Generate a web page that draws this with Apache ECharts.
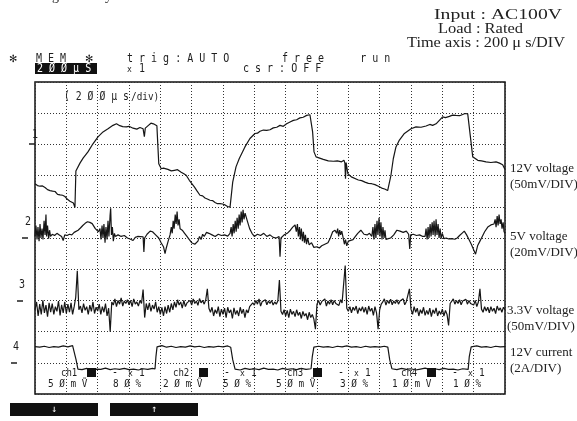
<!DOCTYPE html>
<html><head><meta charset="utf-8">
<script src="https://cdn.jsdelivr.net/npm/echarts@6/dist/echarts.min.js"></script>
<style>html,body{margin:0;padding:0;background:#fff}#c{width:577px;height:421px}</style>
</head><body><div id="c"></div>
<script>
// time axis in microseconds (200 us/div, 15 div), vertical in screen divisions (10 div)
const xTicksUs = {min: 0, max: 3000, step: 200};
const yDivs = {min: 0, max: 10, step: 1};

// CH1: 12V voltage
const ch1 = [
[0,6.74],[16,6.68],[32,6.66],[48,6.67],[64,6.62],[80,6.55],[96,6.52],[112,6.50],[128,6.49],[144,6.40],[160,6.38],[176,6.37],[191,6.33],[207,6.24],[223,6.18],[235,6.16],[245,6.12],[255,5.98],
[261,7.15],[287,7.40],[307,7.56],[338,7.76],[370,8.02],[402,8.24],[434,8.40],[466,8.50],[498,8.61],[520,8.66],[541,8.60],[560,8.57],[583,8.56],[600,8.58],[626,8.52],[650,8.49],[670,8.54],[690,8.50],[698,8.25],[704,8.52],[724,8.61],[740,8.68],[756,8.66],[768,8.67],[778,8.60],[785,7.88],[790,7.38],[806,7.22],[820,7.24],[848,7.20],[870,7.15],[890,7.17],[910,7.19],[933,7.11],[950,7.06],[965,7.01],[985,6.85],[1017,6.64],[1035,6.50],[1053,6.37],[1070,6.35],[1085,6.28],[1100,6.25],[1117,6.21],[1133,6.20],[1149,6.14],[1165,6.10],[1181,6.10],[1197,6.09],[1213,6.06],[1229,6.01],[1245,5.99],
[1251,6.00],[1262,6.79],[1283,7.28],[1304,7.55],[1340,7.92],[1372,8.19],[1404,8.35],[1420,8.36],[1436,8.42],[1458,8.46],[1479,8.45],[1500,8.47],[1521,8.53],[1543,8.55],[1564,8.61],[1585,8.58],[1606,8.66],[1628,8.72],[1649,8.77],[1670,8.79],[1691,8.85],[1712,8.87],[1734,8.93],[1755,8.95],[1766,8.93],[1772,8.40],[1781,7.76],[1794,7.60],[1817,7.56],[1840,7.52],[1872,7.47],[1904,7.46],[1930,7.47],[1957,7.44],[1972,7.49],[1978,7.40],[1982,6.90],[1986,7.42],[1997,7.06],[2019,6.96],[2030,6.93],[2064,6.86],[2085,6.84],[2106,6.79],[2128,6.75],[2149,6.74],[2170,6.71],[2192,6.66],[2213,6.60],[2232,6.57],[2251,6.52],
[2260,6.50],[2272,7.01],[2287,7.54],[2304,7.92],[2326,8.14],[2358,8.35],[2400,8.50],[2432,8.56],[2464,8.55],[2496,8.59],[2520,8.64],[2538,8.61],[2560,8.66],[2581,8.77],[2602,8.88],[2620,8.86],[2645,8.90],[2665,8.94],[2687,8.93],[2710,8.92],[2730,8.96],[2745,8.99],[2762,8.98],[2772,8.93],[2783,8.08],[2794,7.60],[2810,7.55],[2826,7.49],[2850,7.47],[2879,7.44],[2910,7.42],[2943,7.44],[2965,7.40],[2985,7.35],[3000,7.20]
];

// CH2: 5V voltage
const ch2 = [
[0,5.05],[6,5.40],[13,4.95],[19,5.35],[26,4.90],[32,5.45],[38,5.00],[45,5.30],[51,4.95],[58,5.55],[64,5.10],[70,5.75],[74,5.05],[80,5.40],[87,4.98],[93,5.25],[99,5.05],
[110,5.12],[125,5.08],[140,5.15],[155,5.10],[170,5.05],[180,4.92],[190,5.10],[205,5.08],[220,5.12],[235,5.10],[250,5.18],[262,5.14],
[275,5.25],[290,5.32],[305,5.40],[320,5.47],[335,5.52],[350,5.50],[365,5.46],[385,5.30],[405,5.20],
[415,5.30],[421,4.95],[428,5.40],[434,5.00],[440,5.45],[447,4.85],[453,5.35],[460,4.95],[466,5.55],[472,5.05],[479,5.70],[483,5.95],[488,5.10],[494,5.35],[500,4.90],[507,5.15],[513,5.05],
[530,5.10],[550,5.05],[570,5.08],[590,5.00],[610,4.96],[626,4.92],[640,5.02],[655,5.05],[665,5.00],[690,5.04],[695,4.55],[700,5.00],[715,5.12],[735,5.22],[750,5.20],
[770,5.10],[790,5.00],[805,4.85],[820,4.72],[830,4.50],[838,4.68],
[850,4.90],[862,5.10],[870,5.35],[876,5.15],[882,5.55],[888,5.30],[895,5.75],[901,5.45],[907,5.85],[913,5.40],[920,5.60],[926,5.30],
[940,5.25],[955,5.15],[970,5.05],[985,4.95],[1000,4.85],[1020,4.80],
[1040,4.90],[1050,5.05],[1060,4.95],[1070,5.12],[1080,5.05],[1095,5.18],[1110,5.15],
[1130,5.10],[1150,5.05],[1170,5.12],[1190,5.08],[1210,5.10],[1230,5.06],
[1245,5.15],[1252,5.35],[1258,5.05],[1265,5.45],[1271,5.15],[1278,5.55],[1284,5.20],[1290,5.65],[1297,5.30],[1303,5.75],[1309,5.40],[1316,5.85],[1322,5.50],[1328,5.90],[1334,5.60],[1341,5.80],
[1355,5.55],[1370,5.30],[1385,5.15],[1400,5.05],
[1420,5.12],[1440,5.08],[1460,5.15],[1480,5.05],[1500,5.10],[1520,5.02],[1540,5.00],[1558,5.05],[1564,4.40],[1570,5.00],
[1590,5.10],[1610,5.15],[1630,5.25],[1645,5.35],[1660,5.42],
[1668,5.20],[1675,5.45],[1681,5.05],[1688,5.35],[1694,4.95],[1700,5.30],[1707,4.90],[1713,5.20],[1720,4.85],[1726,5.10],[1733,4.80],[1740,5.00],[1750,4.78],[1765,4.85],[1780,4.70],[1800,4.72],[1815,4.68],
[1830,4.75],[1850,4.80],[1870,4.85],[1885,5.00],[1900,5.20],[1915,5.25],
[1925,5.15],[1932,5.30],[1938,5.05],[1945,5.25],[1951,5.10],[1958,5.22],[1965,5.05],
[1975,4.80],[1982,4.95],[1990,4.75],[2000,4.90],[2012,4.85],
[2030,4.95],[2045,5.05],[2060,5.15],[2080,5.25],[2100,5.12],[2120,5.10],[2135,5.15],
[2150,5.05],[2157,5.35],[2163,4.95],[2170,5.45],[2176,5.00],[2183,5.55],[2189,5.10],[2196,5.65],[2202,5.05],[2208,5.50],[2215,4.95],[2221,5.35],[2228,5.00],[2234,5.25],[2240,4.95],
[2255,4.98],[2270,5.00],[2290,5.10],[2310,5.25],[2330,5.22],[2350,5.18],[2370,5.22],[2385,5.12],[2392,4.65],[2398,5.10],
[2415,5.12],[2435,5.08],[2455,5.10],[2475,5.05],
[2490,5.05],[2496,5.30],[2503,4.95],[2509,5.35],[2515,5.00],[2522,5.45],[2528,5.05],[2535,5.50],[2541,5.10],[2547,5.55],[2554,5.05],[2560,5.60],[2566,5.10],[2573,5.45],[2579,5.00],[2586,5.30],[2592,4.98],[2600,5.15],[2610,4.98],
[2625,5.00],[2640,4.97],[2660,4.98],[2680,4.96],[2695,5.00],[2710,5.08],[2725,5.15],[2740,5.22],
[2755,5.10],[2770,4.95],[2785,4.80],[2800,4.62],[2812,4.48],
[2825,4.75],[2840,4.90],[2855,5.05],[2870,5.20],[2890,5.35],[2910,5.42],[2930,5.45],
[2937,5.60],[2943,5.35],[2950,5.70],[2956,5.40],[2962,5.75],[2969,5.45],[2975,5.60],[2981,5.30],[2988,5.50],[2994,5.20],[3000,5.15]
];

// CH3: 3.3V voltage, one sample every 10 us
const ch3StepUs = 10;
const ch3 = [
2.70,2.95,2.50,2.88,2.55,3.00,2.60,2.85,2.48,2.92,
2.62,2.90,2.55,2.80,2.65,2.98,2.52,2.86,2.60,2.95,
2.58,2.88,2.62,2.92,2.55,2.80,3.10,3.95,2.70,2.82,
2.60,2.90,2.68,2.80,2.55,2.85,2.65,2.95,2.58,2.78,
2.66,2.88,2.55,2.80,2.62,2.90,2.50,2.75,2.00,2.95,
2.85,3.05,2.80,3.00,2.88,3.08,2.82,2.98,2.90,3.02,
2.86,3.00,2.80,3.05,2.88,2.95,2.82,3.00,2.90,3.35,
2.45,2.90,2.70,2.92,2.65,2.85,2.72,2.95,2.62,2.80,
2.55,2.78,2.50,2.80,2.58,2.85,2.62,2.90,2.70,2.95,
2.78,3.02,2.85,2.95,2.75,3.00,2.80,2.92,2.88,3.00,
2.85,3.05,2.90,2.98,2.84,3.06,2.92,3.00,2.88,3.02,
3.37,2.75,2.62,2.78,2.50,2.70,2.58,2.80,2.48,2.72,
2.55,2.75,2.45,2.78,2.60,2.70,2.42,2.76,2.55,2.68,
2.50,2.78,2.58,2.72,2.45,2.70,2.60,2.80,2.75,2.92,
2.85,3.00,2.88,3.05,2.82,2.96,2.90,3.02,2.86,2.98,
2.90,3.00,2.85,2.95,2.88,2.98,3.65,2.65,2.55,2.70,
2.50,2.68,2.45,2.72,2.55,2.65,2.48,2.70,2.52,2.62,
2.42,2.65,2.50,2.58,2.38,2.62,2.45,2.55,2.40,2.08,
2.88,3.00,2.85,2.96,2.90,3.05,2.82,2.98,2.88,3.02,
2.86,3.00,2.90,2.95,2.84,3.02,2.92,2.98,4.12,2.75,
2.65,2.80,2.60,2.78,2.68,2.82,2.58,2.76,2.66,2.80,
2.62,2.78,2.55,2.82,2.65,2.75,2.52,2.80,2.60,2.08,
2.70,2.88,2.95,3.05,2.85,3.00,2.90,3.04,2.86,2.98,
2.90,3.02,2.88,2.98,2.92,3.05,2.86,2.96,2.90,3.37,
2.72,2.55,2.80,2.62,2.75,2.50,2.70,2.58,2.78,2.52,
2.68,2.55,2.75,2.48,2.70,2.58,2.76,2.50,2.66,2.55,
2.72,2.50,2.68,2.55,2.20,2.90,2.95,3.05,2.88,3.00,
2.90,3.02,2.86,2.98,2.92,3.04,2.88,3.00,2.90,2.96,
2.85,3.00,2.80,2.95,3.37,2.72,2.62,2.80,2.66,2.78,
2.60,2.80,2.65,2.75,2.58,2.82,2.68,2.76,2.62,2.78,
2.70
];

// CH4: 12V current
const ch4 = [
[0,1.52],[30,1.50],[60,1.53],[90,1.49],[120,1.52],[150,1.50],[180,1.54],[210,1.51],[240,1.55],[252,1.50],[262,1.10],[274,0.80],[300,0.78],[330,0.82],[360,0.77],[390,0.80],[420,0.79],[450,0.83],[480,0.78],[510,0.81],[540,0.79],[570,0.82],[600,0.78],[630,0.80],[660,0.77],[690,0.81],[720,0.79],[750,0.82],[766,0.80],[772,1.20],[779,1.51],
[810,1.55],[840,1.50],[870,1.53],[900,1.49],[930,1.52],[960,1.50],[990,1.54],[1020,1.51],[1050,1.53],[1080,1.49],[1110,1.52],[1140,1.50],[1170,1.53],[1200,1.51],[1230,1.54],[1249,1.50],[1262,1.10],[1277,0.80],
[1310,0.77],[1340,0.82],[1370,0.79],[1400,0.81],[1430,0.78],[1460,0.83],[1490,0.79],[1520,0.80],[1550,0.77],[1580,0.82],[1610,0.79],[1640,0.81],[1670,0.78],[1700,0.82],[1730,0.79],[1762,0.81],[1770,1.20],[1780,1.50],
[1810,1.53],[1840,1.50],[1870,1.52],[1900,1.49],[1930,1.53],[1960,1.51],[1990,1.54],[2020,1.50],[2050,1.52],[2080,1.49],[2110,1.53],[2140,1.50],[2170,1.52],[2200,1.50],[2230,1.53],[2252,1.50],[2264,1.10],[2278,0.81],
[2310,0.78],[2340,0.82],[2370,0.79],[2400,0.81],[2430,0.77],[2460,0.80],[2490,0.83],[2520,0.79],[2550,0.81],[2580,0.78],[2610,0.82],[2640,0.79],[2670,0.80],[2700,0.77],[2730,0.81],[2765,0.79],[2772,1.20],[2784,1.51],
[2820,1.54],[2850,1.50],[2880,1.52],[2910,1.49],[2940,1.53],[2970,1.51],[3000,1.52]
];

// texts
const channelNums = ['1','2','3','4'];
const traceLabels = [['12V voltage','(50mV/DIV)'],['5V voltage','(20mV/DIV)'],['3.3V voltage','(50mV/DIV)'],['12V current','(2A/DIV)']];
const conditions = ['Input : AC100V','Load : Rated','Time axis : 200 μ s/DIV'];
const chVolts = ['5 Ø m Ṽ','2 Ø m Ṽ','5 Ø m Ṽ','1 Ø m V'];
const chPos = ['8 Ø %','5 Ø %','3 Ø %','1 Ø %'];

const MONO = '"DejaVu Sans Mono", monospace';
const SERIF = '"Liberation Serif", "Times New Roman", serif';
const ink = '#1e1e1e';

function txt(text, x, y, size, opt) {
  opt = opt || {};
  const fam = opt.family || MONO;
  const el = {
    type: 'text', x: x, y: y, z: 20, silent: true,
    style: {
      text: text, fill: opt.fill || ink,
      font: (opt.weight || 'normal') + ' ' + size + 'px ' + fam,
      align: opt.align || 'left', verticalAlign: opt.valign || 'middle'
    }
  };
  if (opt.sx) { el.scaleX = opt.sx; }
  const sy = opt.sy || (fam === MONO ? 1.18 : 1);
  if (sy !== 1) { el.scaleY = sy; }
  return el;
}
function measure(text, font) {
  const c = document.createElement('canvas').getContext('2d');
  c.font = font; return c.measureText(text).width;
}

const g = [];
// cropped title descenders at very top
g.push(txt('g', 52, 3, 14, {family: SERIF, valign: 'bottom'}));
g.push(txt('y', 105, 3, 14, {family: SERIF, valign: 'bottom'}));

// condition block (top right)
const condX = [434, 438, 407], condY = [15, 29, 43], condW = [128, 85, 158];
conditions.forEach((t, i) => {
  const f = 'normal 15px ' + SERIF;
  const w = measure(t, f);
  g.push(txt(t, condX[i], condY[i], 15, {family: SERIF, sx: condW[i] / w, fill: '#222'}));
});

// scope header
g.push(txt('✻', 9, 59, 10, {family: '"DejaVu Sans", sans-serif'}));
g.push(txt('M E M', 36, 59, 10));
g.push(txt('✻', 85, 59, 10, {family: '"DejaVu Sans", sans-serif'}));
g.push(txt('t r i g : A U T O', 127, 59, 10));
g.push(txt('f r e e      r u n', 282, 59, 10));
g.push({type: 'rect', shape: {x: 35, y: 63, width: 62, height: 11}, style: {fill: '#111'}, z: 19, silent: true});
g.push(txt('2 Ø Ø µ S', 37, 68.5, 10, {fill: '#fff'}));
g.push(txt('x', 127, 70, 8));
g.push(txt('1', 139, 69, 10));
g.push(txt('c s r : O F F', 243, 69, 10));
g.push(txt('( 2 Ø Ø µ s', 64, 97, 9.8));
g.push(txt('/div)', 131, 97, 9.4));

// channel markers on the left
const numX = [32, 25, 19, 13], numY = [135, 222, 285, 347];
const dashX = [29, 22, 17, 11], dashY = [144, 238, 301, 363];
channelNums.forEach((n, i) => {
  g.push(txt(n, numX[i], numY[i], 10));
  g.push({type: 'line', shape: {x1: dashX[i], y1: dashY[i], x2: dashX[i] + 6, y2: dashY[i]}, style: {stroke: ink, lineWidth: 1.5}, z: 20, silent: true});
});

// right side trace labels
const labX = [510, 510, 507, 510], labY = [169, 237, 311, 353];
traceLabels.forEach((l, i) => {
  g.push(txt(l[0], labX[i], labY[i], 13, {family: SERIF, fill: '#222'}));
  g.push(txt(l[1], labX[i], labY[i] + 16, 13, {family: SERIF, fill: '#222'}));
});

// bottom settings rows inside the screen
const grpX = [61, 173, 287, 401];
const voltX = [48, 163, 276, 392], posX = [113, 223, 340, 453];
grpX.forEach((x, i) => {
  g.push(txt('ch' + (i + 1), x, 373, 9));
  g.push({type: 'rect', shape: {x: x + 26, y: 368, width: 9, height: 9}, style: {fill: '#111'}, z: 20, silent: true});
  g.push(txt('-', x + 51, 373, 10));
  g.push(txt('x', x + 67, 374, 8));
  g.push(txt('1', x + 78, 373, 9.5));
  g.push(txt(chVolts[i], voltX[i], 384, 9.4));
  g.push(txt(chPos[i], posX[i], 384, 9.4));
});

// soft keys below
g.push({type: 'rect', shape: {x: 10, y: 403, width: 88, height: 13}, style: {fill: '#111'}, silent: true});
g.push({type: 'rect', shape: {x: 110, y: 403, width: 88, height: 13}, style: {fill: '#111'}, silent: true});
g.push(txt('↓', 54, 409.5, 10, {fill: '#fff', align: 'center', sy: 1}));
g.push(txt('↑', 154, 409.5, 10, {fill: '#fff', align: 'center', sy: 1}));

const gridLine = {show: true, lineStyle: {color: '#333', width: 1, type: [1, 2]}};
const traceStyle = {color: '#161616', width: 1.2};
function trace(data) {
  return {type: 'line', data: data, showSymbol: false, symbol: 'none', silent: true,
          lineStyle: traceStyle, itemStyle: {color: '#161616'}, z: 5};
}

const chart = echarts.init(document.getElementById('c'), null, {renderer: 'canvas'});
chart.setOption({
  animation: false,
  backgroundColor: '#fff',
  grid: {left: 35, top: 82, width: 470, height: 312, show: true, borderColor: '#111', borderWidth: 1.5, backgroundColor: 'rgba(0,0,0,0)'},
  xAxis: {type: 'value', min: xTicksUs.min, max: xTicksUs.max, interval: xTicksUs.step,
          axisLine: {show: false}, axisTick: {show: false}, axisLabel: {show: false}, splitLine: gridLine},
  yAxis: {type: 'value', min: yDivs.min, max: yDivs.max, interval: yDivs.step,
          axisLine: {show: false}, axisTick: {show: false}, axisLabel: {show: false}, splitLine: gridLine},
  series: [
    trace(ch1),
    trace(ch2),
    trace(ch3.map((v, i) => [i * ch3StepUs, v])),
    trace(ch4)
  ],
  graphic: g
});
</script>
</body></html>
